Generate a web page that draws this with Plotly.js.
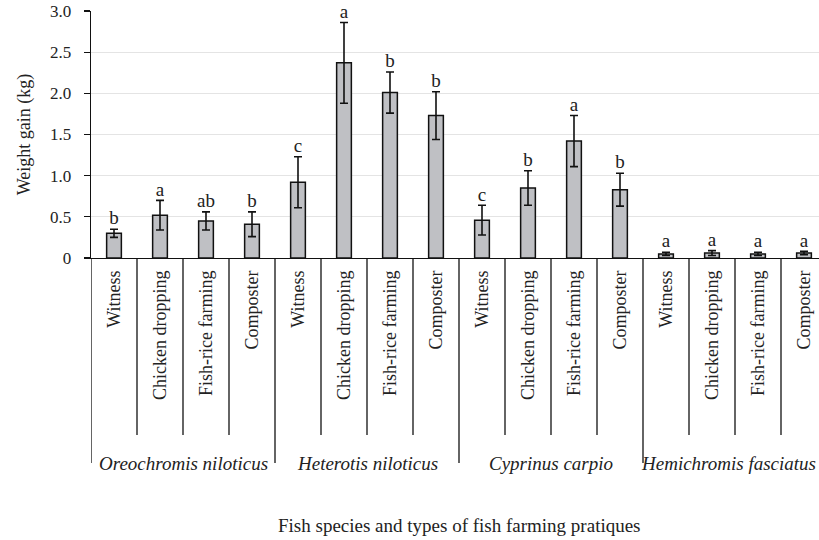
<!DOCTYPE html>
<html>
<head>
<meta charset="utf-8">
<script src="https://cdn.plot.ly/plotly-3.0.1.min.js"></script>
<style>html,body{margin:0;padding:0;background:#fff;}#chart{width:819px;height:540px;}</style>
</head>
<body>
<div id="chart"></div>
<script>
// ---- Data ----
const species = ['Oreochromis niloticus', 'Heterotis niloticus', 'Cyprinus carpio', 'Hemichromis fasciatus'];
const practices = ['Witness', 'Chicken dropping', 'Fish-rice farming', 'Composter'];

const oreochromisMean = [0.30, 0.52, 0.45, 0.41];
const oreochromisErr  = [0.05, 0.18, 0.11, 0.15];
const oreochromisSig  = ['b', 'a', 'ab', 'b'];

const heterotisMean = [0.92, 2.37, 2.01, 1.73];
const heterotisErr  = [0.31, 0.49, 0.25, 0.29];
const heterotisSig  = ['c', 'a', 'b', 'b'];

const cyprinusMean = [0.46, 0.85, 1.42, 0.83];
const cyprinusErr  = [0.18, 0.21, 0.31, 0.20];
const cyprinusSig  = ['c', 'b', 'a', 'b'];

const hemichromisMean = [0.05, 0.06, 0.05, 0.06];
const hemichromisErr  = [0.02, 0.03, 0.02, 0.02];
const hemichromisSig  = ['a', 'a', 'a', 'a'];

const yTickVals = [0, 0.5, 1.0, 1.5, 2.0, 2.5, 3.0];
const yTickText = ['0', '0.5', '1.0', '1.5', '2.0', '2.5', '3.0'];

const yTitle = 'Weight gain (kg)';
const xTitle = 'Fish species and types of fish farming pratiques';

// ---- Build traces ----
const means = [].concat(oreochromisMean, heterotisMean, cyprinusMean, hemichromisMean);
const errs = [].concat(oreochromisErr, heterotisErr, cyprinusErr, hemichromisErr);
const sigs = [].concat(oreochromisSig, heterotisSig, cyprinusSig, hemichromisSig);
const nGroup = practices.length;
const idx = means.map((_, i) => i);
const tickText = idx.map(i => practices[i % nGroup]);

const FONT = 'Liberation Serif, serif';
const TXT = '#222222';

const bars = {
  type: 'bar',
  x: idx,
  y: means,
  marker: { color: '#bfc0c4', line: { color: '#111111', width: 1.5 } },
  error_y: { type: 'data', array: errs, visible: true, color: '#111111', thickness: 1.6, width: 4 },
  hoverinfo: 'x+y'
};

const letters = {
  type: 'scatter',
  mode: 'text',
  x: idx,
  y: means.map((m, i) => m + errs[i]),
  text: sigs,
  textposition: 'top center',
  textfont: { family: FONT, size: 19, color: TXT },
  cliponaxis: false,
  hoverinfo: 'skip'
};

// separator lines below the category axis
const shortBottom = (258 - 435) / 247;
const longBottom = (258 - 463) / 247;
const shapes = [];
for (let k = 0; k < means.length; k++) {
  const isGroupStart = k % nGroup === 0;
  shapes.push({
    type: 'line', xref: 'x', yref: 'paper',
    x0: k - 0.5, x1: k - 0.5, y0: 0, y1: isGroupStart ? longBottom : shortBottom,
    line: { color: '#111111', width: 1.3 }
  });
}

const annotations = species.map((s, g) => ({
  xref: 'x', yref: 'paper',
  x: g * nGroup + (nGroup - 1) / 2, y: (258 - 463) / 247,
  xshift: g === species.length - 1 ? -7 : 0,
  text: '<i>' + s + '</i>', showarrow: false,
  xanchor: 'center', yanchor: 'middle',
  font: { family: FONT, size: 19, color: TXT }
}));
annotations.push({
  xref: 'x', yref: 'paper',
  x: (means.length - 1) / 2, y: (258 - 525) / 247,
  text: xTitle, showarrow: false, xanchor: 'center', yanchor: 'middle',
  font: { family: FONT, size: 19, color: TXT }
});

const layout = {
  width: 819, height: 540,
  margin: { l: 91, r: 0, t: 11, b: 282, pad: 0 },
  paper_bgcolor: '#ffffff', plot_bgcolor: '#ffffff',
  showlegend: false,
  bargap: 0.68,
  font: { family: FONT, color: TXT },
  xaxis: {
    range: [-0.5, 15.326],
    tickvals: idx, ticktext: tickText,
    tickangle: -90,
    tickfont: { family: FONT, size: 18, color: TXT },
    ticks: '', ticklabelstandoff: 4,
    showline: true, linecolor: '#111111', linewidth: 1.3,
    showgrid: false, zeroline: false, automargin: false
  },
  yaxis: {
    range: [0, 3],
    tickvals: yTickVals, ticktext: yTickText,
    tickfont: { family: FONT, size: 17, color: TXT },
    ticks: 'outside', ticklen: 6, tickwidth: 1.3, tickcolor: '#111111',
    ticklabelstandoff: 9,
    showline: true, linecolor: '#111111', linewidth: 1.3,
    showgrid: true, gridcolor: '#e4e4e4', gridwidth: 1.2,
    zeroline: false, automargin: false,
    title: { text: yTitle, font: { family: FONT, size: 18, color: TXT }, standoff: 14 }
  },
  shapes: shapes,
  annotations: annotations
};

Plotly.newPlot('chart', [bars, letters], layout, { staticPlot: true, displayModeBar: false });
</script>
</body>
</html>
